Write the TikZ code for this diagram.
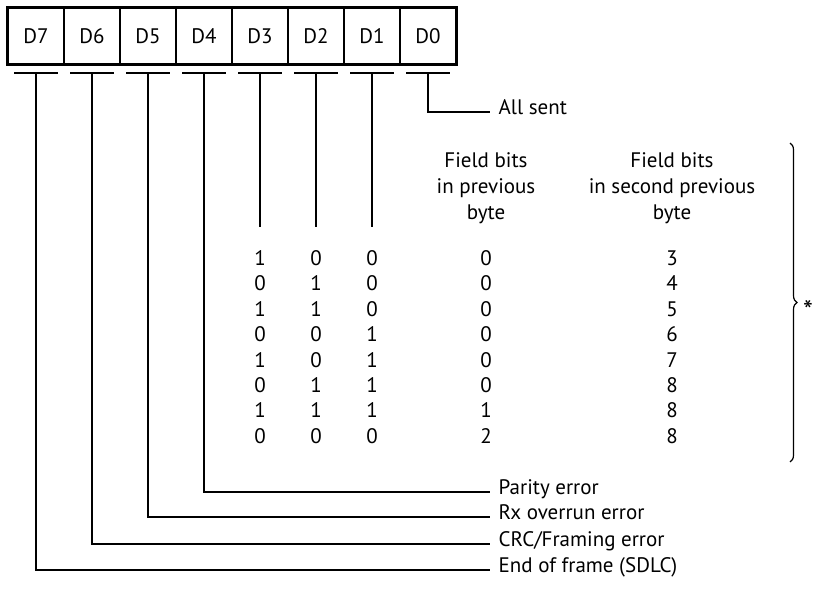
\documentclass[tikz,border=0pt]{standalone}
\usepackage{fontspec}
\setmainfont{PT Sans}
\usetikzlibrary{calc}
\usetikzlibrary{decorations.pathreplacing}

\begin{document}
\begin{tikzpicture}[x=1pt, y=-1pt, line width=1.4pt,
    every node/.style={font=\fontsize{21}{26}\selectfont, inner sep=0pt},
    cell/.style={draw, minimum width=56pt, minimum height=56pt},
    bit/.style={text height=0.7em, text depth=0pt},
    flag/.style={anchor=west, inner xsep=8pt, inner ysep=0pt, text height=0.72em, text depth=0.22em}]

    \useasboundingbox (0,0) rectangle (814,599);

    % REGISTER
    \foreach \n [count=\i from 0] in {7,6,...,0} {
        \node[cell] (d\n) at ({36+56*\i},36) {D\n};
        \coordinate (t\n) at ($(d\n.south)+(0,8)$);
        \draw[line width=1.8pt] ([xshift=-22pt]t\n) -- ([xshift=22pt]t\n);
    }
    \draw[line width=2.8pt] (d7.north west) rectangle (d0.south east);

    % ALL SENT
    \node[flag] (sent) at (490,112) {All sent};
    \draw (t0) |- (sent);

    % FIELD BITS
    \foreach \n in {3,2,1} {
        \coordinate (e\n) at ($(t\n)+(0,154)$);
        \draw (t\n) -- (e\n);
    }
    \node[align=center] (hprev) at (486,188) {Field bits\\in previous\\byte};
    \node[align=center] (hsec) at (672,188) {Field bits\\in second previous\\byte};

    \foreach \a/\b/\c/\p/\s [count=\r from 0] in {1/0/0/0/3, 0/1/0/0/4, 1/1/0/0/5, 0/0/1/0/6,
                                                 1/0/1/0/7, 0/1/1/0/8, 1/1/1/1/8, 0/0/0/2/8} {
        \node[bit] (a\r) at (260,{262+25.4*\r}) {\a};
        \node[bit] (b\r) at (316,{262+25.4*\r}) {\b};
        \node[bit] (c\r) at (372,{262+25.4*\r}) {\c};
        \node[bit] (p\r) at (486,{262+25.4*\r}) {\p};
        \node[bit] (s\r) at (672,{262+25.4*\r}) {\s};
    }

    \coordinate (btop) at (790,143);
    \coordinate (bbot) at (790,462);
    \draw[line width=1.2pt, decorate, decoration={brace, amplitude=7pt}] (btop) -- (bbot);
    \node[font=\fontsize{28}{30}\selectfont] (star) at (808,310) {*};

    % ERROR FLAGS
    \node[flag] (par) at (490,492) {Parity error};
    \draw (t4) |- (par);
    \node[flag] (rxo) at (490,517) {Rx overrun error};
    \draw (t5) |- (rxo);
    \node[flag] (crc) at (490,544) {CRC/Framing error};
    \draw (t6) |- (crc);
    \node[flag] (eof) at (490,570) {End of frame (SDLC)};
    \draw (t7) |- (eof);
\end{tikzpicture}
\end{document}
